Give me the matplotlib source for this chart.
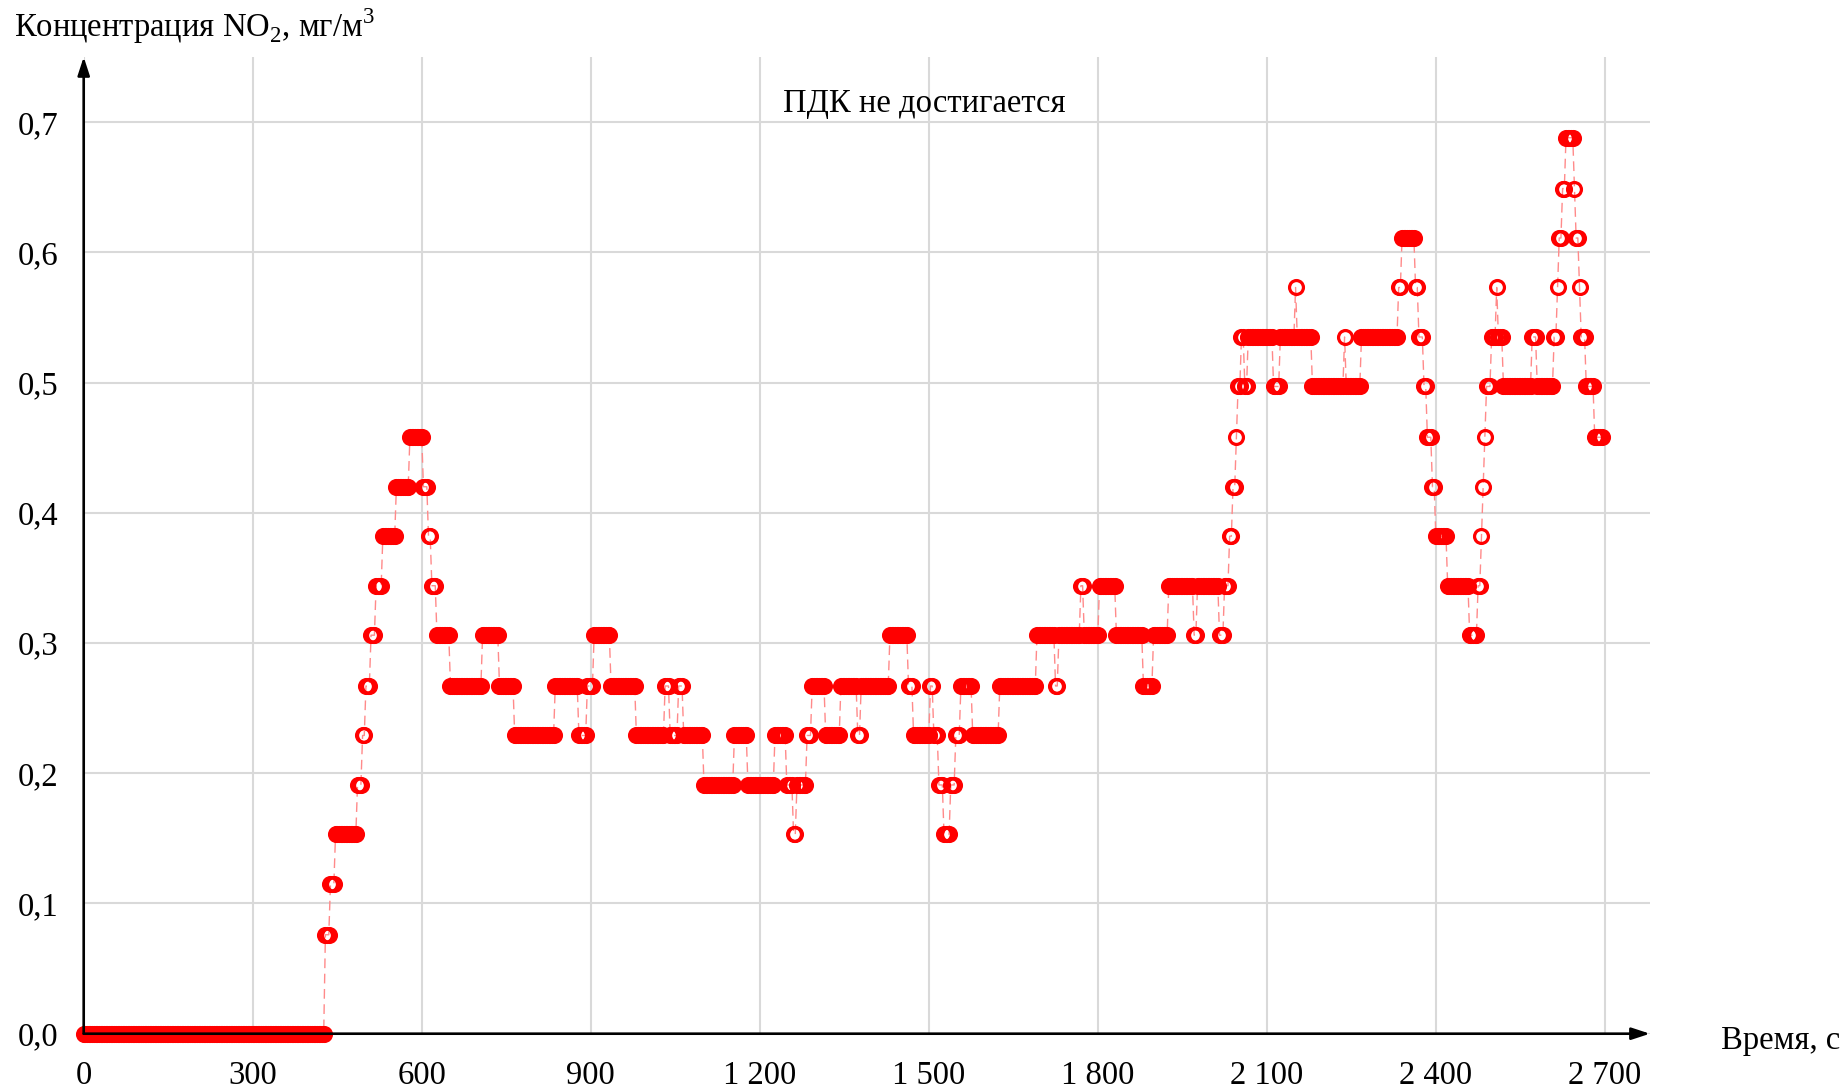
import matplotlib
matplotlib.use('Agg')
import matplotlib.pyplot as plt
import numpy as np

plt.rcParams['font.family'] = ['Liberation Serif', 'DejaVu Serif']
plt.rcParams['mathtext.fontset'] = 'custom'
plt.rcParams['mathtext.rm'] = 'Liberation Serif'

# шаг опроса датчика, с
step_s = 3

# уровни концентрации NO2 (мг/м3) по участкам и число отсчётов на каждом участке
run_conc = [
    0.0, 0.076, 0.115, 0.153, 0.191, 0.229, 0.267, 0.306, 0.344, 0.382,
    0.420, 0.458, 0.420, 0.382, 0.344, 0.306, 0.267, 0.306, 0.267, 0.229,
    0.267, 0.229, 0.267, 0.306, 0.267, 0.229, 0.267, 0.229, 0.267, 0.229,
    0.191, 0.229, 0.191, 0.229, 0.191, 0.153, 0.191, 0.229, 0.267, 0.229,
    0.267, 0.229, 0.267, 0.306, 0.267, 0.229, 0.267, 0.229, 0.191, 0.153,
    0.191, 0.229, 0.267, 0.229, 0.267, 0.306, 0.267, 0.306, 0.344, 0.306,
    0.344, 0.306, 0.267, 0.306, 0.344, 0.306, 0.344, 0.306, 0.344, 0.382,
    0.420, 0.458, 0.497, 0.535, 0.497, 0.535, 0.497, 0.535, 0.573, 0.535,
    0.497, 0.535, 0.497, 0.535, 0.573, 0.611, 0.573, 0.535, 0.497, 0.458,
    0.420, 0.382, 0.344, 0.306, 0.344, 0.382, 0.420, 0.458, 0.497, 0.535,
    0.573, 0.535, 0.497, 0.535, 0.497, 0.535, 0.573, 0.611, 0.649, 0.688,
    0.649, 0.611, 0.573, 0.535, 0.497, 0.458]

run_samples = [
    143, 3, 3, 13, 3, 2, 3, 3, 4, 8,
    8, 8, 3, 2, 3, 8, 19, 10, 9, 24,
    14, 5, 4, 10, 15, 17, 3, 5, 3, 12,
    18, 8, 16, 7, 4, 2, 6, 3, 8, 9,
    10, 2, 17, 11, 3, 10, 2, 3, 3, 4,
    3, 3, 7, 16, 22, 11, 2, 13, 2, 9,
    10, 16, 6, 9, 15, 2, 13, 3, 3, 2,
    2, 1, 2, 2, 2, 15, 4, 9, 1, 9,
    19, 1, 9, 22, 2, 8, 2, 3, 2, 3,
    2, 7, 13, 5, 2, 1, 1, 1, 3, 3,
    1, 3, 17, 3, 10, 2, 1, 2, 2, 5,
    1, 2, 1, 3, 5, 5]

x_ticks = [0, 300, 600, 900, 1200, 1500, 1800, 2100, 2400, 2700]
y_ticks = [0.0, 0.1, 0.2, 0.3, 0.4, 0.5, 0.6, 0.7]

conc = np.repeat(run_conc, run_samples)
t = np.arange(len(conc)) * step_s

fig = plt.figure(figsize=(18.42, 10.89), dpi=100)
ax = fig.add_axes([0.04544, 0.05078, 0.8503, 0.8969])

ax.plot(t, conc, color='#ff8a8a', linewidth=1.0, linestyle=(0, (7, 4)),
        marker='o', markersize=10, markeredgewidth=2.3,
        markeredgecolor='#ff0000', markerfacecolor='none', clip_on=False, zorder=3)

ax.set_xlim(0, 2780)
ax.set_ylim(0, 0.75)
ax.set_xticks(x_ticks)
ax.set_xticklabels([f'{v:,}'.replace(',', ' ') for v in x_ticks])
ax.set_yticks(y_ticks)
ax.set_yticklabels([f'{v:.1f}'.replace('.', ',') for v in y_ticks])
ax.tick_params(length=0, labelsize=23.5)
ax.tick_params(axis='x', pad=19)
ax.tick_params(axis='y', pad=18)

ax.grid(True, color='#d9d9d9', linewidth=1.5)
ax.set_axisbelow(True)
for s in ax.spines.values():
    s.set_visible(False)

# оси со стрелками
arrow = dict(arrowstyle='-|>,head_length=0.55,head_width=0.18', color='black',
             lw=1.9, shrinkA=0, shrinkB=0, mutation_scale=20)
ax.annotate('', xy=(1, 0), xytext=(0, 0), xycoords='axes fraction', arrowprops=arrow, zorder=4)
ax.annotate('', xy=(0, 1), xytext=(0, 0), xycoords='axes fraction', arrowprops=arrow, zorder=4)

fig.text(14 / 1842, 1 - 26 / 1089, r'Концентрация NO$_{\mathregular{2}}$, мг/м$^{\mathregular{3}}$',
         fontsize=23.5, ha='left', va='center')
fig.text(1721 / 1842, 1 - 1041 / 1089, 'Время, с', fontsize=23.5, ha='left', va='center')
ax.text(0.5368, 0.952, 'ПДК не достигается', transform=ax.transAxes,
        fontsize=23.5, ha='center', va='center')

fig.savefig('out.png', dpi=100)
